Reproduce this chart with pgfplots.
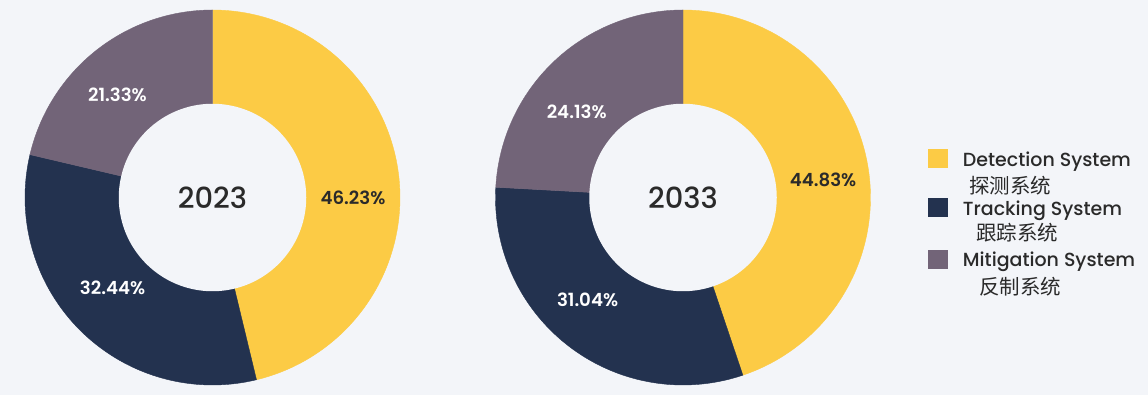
\documentclass[border=0pt]{standalone}
\usepackage{pgfplots}
\pgfplotsset{compat=1.18}
\usepackage{pgfplotstable}
\usepackage{fontspec}
\setmainfont{Poppins}
\newfontfamily\pmed{Poppins Medium}
\newfontfamily\psemi{Poppins SemiBold}
\newfontfamily\cjk{Noto Sans CJK SC}
\definecolor{bg}{HTML}{F3F5F9}
\definecolor{cyel}{HTML}{FCCB45}
\definecolor{cnav}{HTML}{23324F}
\definecolor{cmau}{HTML}{726478}
\definecolor{ctxt}{HTML}{2A2A2A}

\pgfplotstableread{
name y2023 y2033
Detection 46.23 44.83
Tracking 32.44 31.04
Mitigation 21.33 24.13
}\datatable

\begin{document}%
\pgfplotstablegetelem{0}{y2023}\of\datatable \let\aA\pgfplotsretval%
\pgfplotstablegetelem{1}{y2023}\of\datatable \let\aB\pgfplotsretval%
\pgfplotstablegetelem{0}{y2033}\of\datatable \let\bA\pgfplotsretval%
\pgfplotstablegetelem{1}{y2033}\of\datatable \let\bB\pgfplotsretval%
\pgfmathsetmacro\tAa{90-3.6*\aA}%
\pgfmathsetmacro\tAb{90-3.6*(\aA+\aB)}%
\pgfmathsetmacro\tBa{90-3.6*\bA}%
\pgfmathsetmacro\tBb{90-3.6*(\bA+\bB)}%
\begin{tikzpicture}
\fill[bg] (0pt,0pt) rectangle (1148pt,395pt);
\pgfplotsset{donut/.style={hide axis, scale only axis, width=375pt, height=375pt,
  xmin=-1, xmax=1, ymin=-1, ymax=1, clip=false, anchor=center}}
% 2023
\begin{axis}[donut, at={(212.5pt,197.5pt)}]
\addplot[draw=cyel, line width=0.4pt, fill=cyel, domain=\tAa:90, samples=120, variable=\t] ({cos(\t)},{sin(\t)}) -- (axis cs:0,0) -- cycle;
\addplot[draw=cnav, line width=0.4pt, fill=cnav, domain=\tAb:\tAa, samples=120, variable=\t] ({cos(\t)},{sin(\t)}) -- (axis cs:0,0) -- cycle;
\addplot[draw=cmau, line width=0.4pt, fill=cmau, domain=-270:\tAb, samples=120, variable=\t] ({cos(\t)},{sin(\t)}) -- (axis cs:0,0) -- cycle;
\addplot[draw=none, fill=bg, domain=0:360, samples=200, variable=\t] ({0.5*cos(\t)},{0.5*sin(\t)}) -- cycle;
\node[font=\pmed\fontsize{29}{29}\selectfont, text=ctxt] at (axis cs:0,0) {2023};
\node[font=\psemi\fontsize{18.2}{18.2}\selectfont, text=ctxt] at (axis cs:0.749,0.0) {46.23\%};
\node[font=\psemi\fontsize{18.2}{18.2}\selectfont, text=white] at (axis cs:-0.533,-0.483) {32.44\%};
\node[font=\psemi\fontsize{18.2}{18.2}\selectfont, text=white] at (axis cs:-0.507,0.547) {21.33\%};
\end{axis}
% 2033
\begin{axis}[donut, at={(683pt,197.5pt)}]
\addplot[draw=cyel, line width=0.4pt, fill=cyel, domain=\tBa:90, samples=120, variable=\t] ({cos(\t)},{sin(\t)}) -- (axis cs:0,0) -- cycle;
\addplot[draw=cnav, line width=0.4pt, fill=cnav, domain=\tBb:\tBa, samples=120, variable=\t] ({cos(\t)},{sin(\t)}) -- (axis cs:0,0) -- cycle;
\addplot[draw=cmau, line width=0.4pt, fill=cmau, domain=-270:\tBb, samples=120, variable=\t] ({cos(\t)},{sin(\t)}) -- (axis cs:0,0) -- cycle;
\addplot[draw=none, fill=bg, domain=0:360, samples=200, variable=\t] ({0.5*cos(\t)},{0.5*sin(\t)}) -- cycle;
\node[font=\pmed\fontsize{29}{29}\selectfont, text=ctxt] at (axis cs:0,0) {2033};
\node[font=\psemi\fontsize{18.2}{18.2}\selectfont, text=ctxt] at (axis cs:0.747,0.093) {44.83\%};
\node[font=\psemi\fontsize{18.2}{18.2}\selectfont, text=white] at (axis cs:-0.509,-0.547) {31.04\%};
\node[font=\psemi\fontsize{18.2}{18.2}\selectfont, text=white] at (axis cs:-0.567,0.458) {24.13\%};
\end{axis}
% legend
\fill[cyel] (928pt,227pt) rectangle (948pt,246pt);
\fill[cnav] (928pt,178pt) rectangle (948pt,197pt);
\fill[cmau] (928pt,126pt) rectangle (948pt,145pt);
\node[anchor=base west, inner sep=0pt, text=ctxt, font=\pmed\fontsize{19}{19}\selectfont] at (962.7pt,228.3pt) {Detection System};
\node[anchor=base west, inner sep=0pt, text=ctxt, font=\pmed\fontsize{19}{19}\selectfont] at (962.7pt,179pt) {Tracking System};
\node[anchor=base west, inner sep=0pt, text=ctxt, font=\pmed\fontsize{19}{19}\selectfont] at (962.7pt,128pt) {Mitigation System};
\node[anchor=west, inner sep=0pt, text=ctxt, font=\cjk\fontsize{20.5}{20.5}\selectfont] at (969pt,209.5pt) {探测系统};
\node[anchor=west, inner sep=0pt, text=ctxt, font=\cjk\fontsize{20.5}{20.5}\selectfont] at (976pt,162pt) {跟踪系统};
\node[anchor=west, inner sep=0pt, text=ctxt, font=\cjk\fontsize{20.5}{20.5}\selectfont] at (979pt,108.3pt) {反制系统};
\pgfresetboundingbox
\useasboundingbox (0pt,0pt) rectangle (1148pt,395pt);
\end{tikzpicture}%
\end{document}
